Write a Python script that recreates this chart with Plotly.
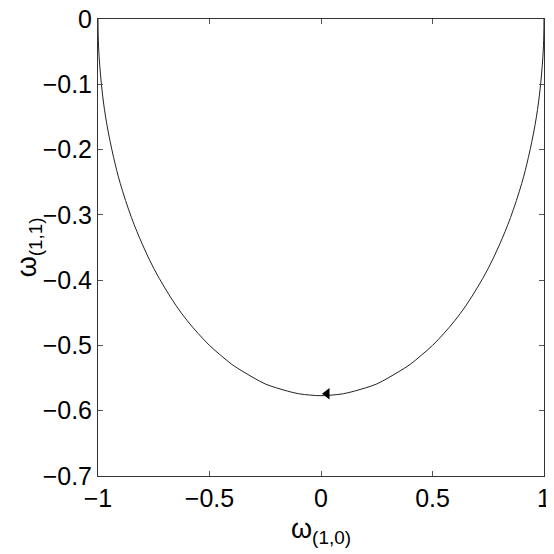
import plotly.graph_objects as go

# curve (omega_(1,0) vs omega_(1,1))
curve_x = [
    -1.0, -0.999, -0.995, -0.98, -0.96, -0.93, -0.90, -0.85, -0.80, -0.75,
    -0.70, -0.65, -0.60, -0.55, -0.50, -0.45, -0.40, -0.35, -0.30, -0.25,
    -0.20, -0.15, -0.10, -0.05, 0.0, 0.05, 0.10, 0.15, 0.20, 0.25,
    0.30, 0.35, 0.40, 0.45, 0.50, 0.55, 0.60, 0.65, 0.70, 0.75,
    0.80, 0.85, 0.90, 0.93, 0.96, 0.98, 0.995, 0.999, 1.0,
]
curve_y = [
    0.0, -0.026, -0.058, -0.115, -0.162, -0.212, -0.252, -0.304, -0.346, -0.382,
    -0.412, -0.439, -0.462, -0.482, -0.500, -0.515, -0.529, -0.540, -0.550, -0.559,
    -0.565, -0.570, -0.574, -0.576, -0.577, -0.576, -0.574, -0.570, -0.565, -0.559,
    -0.550, -0.540, -0.529, -0.515, -0.500, -0.482, -0.462, -0.439, -0.412, -0.382,
    -0.346, -0.304, -0.252, -0.212, -0.162, -0.115, -0.058, -0.026, 0.0,
]

# direction arrow on the curve
arrow_x = [0.027]
arrow_y = [-0.574]

x_ticks = [-1, -0.5, 0, 0.5, 1]
x_labels = ["\u22121", "\u22120.5", "0", "0.5", "1"]
y_ticks = [0, -0.1, -0.2, -0.3, -0.4, -0.5, -0.6, -0.7]
y_labels = ["0", "\u22120.1", "\u22120.2", "\u22120.3", "\u22120.4",
            "\u22120.5", "\u22120.6", "\u22120.7"]

FONT = "Liberation Sans, Arial, Helvetica, sans-serif"

fig = go.Figure()

fig.add_trace(
    go.Scatter(
        x=curve_x,
        y=curve_y,
        mode="lines",
        line=dict(color="#222222", width=1, shape="spline"),
        showlegend=False,
    )
)

fig.add_trace(
    go.Scatter(
        x=arrow_x,
        y=arrow_y,
        mode="markers",
        marker=dict(symbol="triangle-left", size=10, color="black"),
        showlegend=False,
    )
)

axis_common = dict(
    showgrid=False,
    zeroline=False,
    showline=True,
    linecolor="#333333",
    linewidth=1,
    mirror="ticks",
    ticks="inside",
    ticklen=5,
    tickcolor="#555555",
    tickfont=dict(family=FONT, size=25, color="black"),
    ticklabeloverflow="allow",
    automargin=False,
)

fig.update_layout(
    width=554,
    height=554,
    # the page body adds an 8px offset, margins are trimmed to compensate
    margin=dict(l=90, r=18, t=11, b=86),
    paper_bgcolor="white",
    plot_bgcolor="white",
    font=dict(family=FONT, color="black"),
    xaxis=dict(range=[-1, 1], tickvals=x_ticks, ticktext=x_labels, **axis_common),
    yaxis=dict(range=[-0.7, 0], tickvals=y_ticks, ticktext=y_labels, **axis_common),
)

# axis titles
fig.add_annotation(
    text="\u03c9<sub>(1,0)</sub>",
    xref="paper", yref="paper",
    x=0.5, y=-0.12,
    xanchor="center", yanchor="middle",
    showarrow=False,
    font=dict(family=FONT, size=27, color="black"),
)
fig.add_annotation(
    text="\u03c9<sub>(1,1)</sub>",
    xref="paper", yref="paper",
    x=-0.155, y=0.5,
    xanchor="center", yanchor="middle",
    textangle=-90,
    showarrow=False,
    font=dict(family=FONT, size=27, color="black"),
)

fig.write_html("out.html")
